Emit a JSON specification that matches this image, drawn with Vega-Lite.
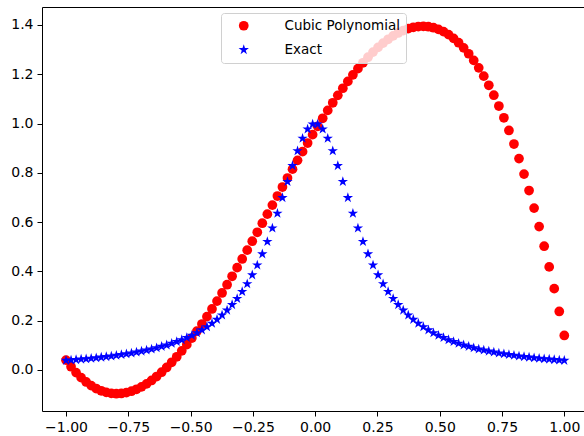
{
  "$schema": "https://vega.github.io/schema/vega-lite/v6.json",
  "width": 542,
  "height": 404,
  "autosize": {"type": "none"},
  "padding": {"left": 42, "top": 7, "right": 0, "bottom": 25},
  "background": "white",
  "config": {
    "view": {"stroke": "black", "strokeWidth": 1},
    "font": "DejaVu Sans",
    "axis": {
      "grid": false,
      "domain": false,
      "tickColor": "black",
      "tickSize": 5,
      "labelFont": "DejaVu Sans",
      "labelFontSize": 14,
      "labelColor": "black",
      "labelPadding": 4,
      "title": null
    }
  },
  "data": {
    "values": [
      {"x": -1.0, "Cubic Polynomial": 0.040, "Exact": 0.0385},
      {"x": -0.9798, "Cubic Polynomial": 0.0132, "Exact": 0.0400},
      {"x": -0.9596, "Cubic Polynomial": -0.0105, "Exact": 0.0416},
      {"x": -0.9394, "Cubic Polynomial": -0.0311, "Exact": 0.0434},
      {"x": -0.9192, "Cubic Polynomial": -0.0487, "Exact": 0.0452},
      {"x": -0.8990, "Cubic Polynomial": -0.0634, "Exact": 0.0472},
      {"x": -0.8788, "Cubic Polynomial": -0.0753, "Exact": 0.0492},
      {"x": -0.8586, "Cubic Polynomial": -0.0844, "Exact": 0.0515},
      {"x": -0.8384, "Cubic Polynomial": -0.0909, "Exact": 0.0538},
      {"x": -0.8182, "Cubic Polynomial": -0.0948, "Exact": 0.0564},
      {"x": -0.7980, "Cubic Polynomial": -0.0962, "Exact": 0.0591},
      {"x": -0.7778, "Cubic Polynomial": -0.0951, "Exact": 0.0620},
      {"x": -0.7576, "Cubic Polynomial": -0.0918, "Exact": 0.0652},
      {"x": -0.7374, "Cubic Polynomial": -0.0861, "Exact": 0.0685},
      {"x": -0.7172, "Cubic Polynomial": -0.0783, "Exact": 0.0722},
      {"x": -0.6970, "Cubic Polynomial": -0.0683, "Exact": 0.0761},
      {"x": -0.6768, "Cubic Polynomial": -0.0564, "Exact": 0.0803},
      {"x": -0.6566, "Cubic Polynomial": -0.0424, "Exact": 0.0849},
      {"x": -0.6364, "Cubic Polynomial": -0.0266, "Exact": 0.0899},
      {"x": -0.6162, "Cubic Polynomial": -0.0091, "Exact": 0.0953},
      {"x": -0.5960, "Cubic Polynomial": 0.0102, "Exact": 0.1012},
      {"x": -0.5758, "Cubic Polynomial": 0.0312, "Exact": 0.1077},
      {"x": -0.5556, "Cubic Polynomial": 0.0536, "Exact": 0.1147},
      {"x": -0.5354, "Cubic Polynomial": 0.0776, "Exact": 0.1225},
      {"x": -0.5152, "Cubic Polynomial": 0.1029, "Exact": 0.1310},
      {"x": -0.4949, "Cubic Polynomial": 0.1295, "Exact": 0.1404},
      {"x": -0.4747, "Cubic Polynomial": 0.1574, "Exact": 0.1507},
      {"x": -0.4545, "Cubic Polynomial": 0.1864, "Exact": 0.1622},
      {"x": -0.4343, "Cubic Polynomial": 0.2165, "Exact": 0.1749},
      {"x": -0.4141, "Cubic Polynomial": 0.2476, "Exact": 0.1891},
      {"x": -0.3939, "Cubic Polynomial": 0.2796, "Exact": 0.2049},
      {"x": -0.3737, "Cubic Polynomial": 0.3125, "Exact": 0.2226},
      {"x": -0.3535, "Cubic Polynomial": 0.3460, "Exact": 0.2424},
      {"x": -0.3333, "Cubic Polynomial": 0.3803, "Exact": 0.2647},
      {"x": -0.3131, "Cubic Polynomial": 0.4152, "Exact": 0.2898},
      {"x": -0.2929, "Cubic Polynomial": 0.4505, "Exact": 0.3180},
      {"x": -0.2727, "Cubic Polynomial": 0.4863, "Exact": 0.3497},
      {"x": -0.2525, "Cubic Polynomial": 0.5225, "Exact": 0.3855},
      {"x": -0.2323, "Cubic Polynomial": 0.5589, "Exact": 0.4257},
      {"x": -0.2121, "Cubic Polynomial": 0.5956, "Exact": 0.4706},
      {"x": -0.1919, "Cubic Polynomial": 0.6323, "Exact": 0.5206},
      {"x": -0.1717, "Cubic Polynomial": 0.6691, "Exact": 0.5757},
      {"x": -0.1515, "Cubic Polynomial": 0.7058, "Exact": 0.6354},
      {"x": -0.1313, "Cubic Polynomial": 0.7425, "Exact": 0.6988},
      {"x": -0.1111, "Cubic Polynomial": 0.7789, "Exact": 0.7642},
      {"x": -0.0909, "Cubic Polynomial": 0.8150, "Exact": 0.8288},
      {"x": -0.0707, "Cubic Polynomial": 0.8508, "Exact": 0.8889},
      {"x": -0.0505, "Cubic Polynomial": 0.8861, "Exact": 0.9401},
      {"x": -0.0303, "Cubic Polynomial": 0.9209, "Exact": 0.9776},
      {"x": -0.0101, "Cubic Polynomial": 0.9551, "Exact": 0.9975},
      {"x": 0.0101, "Cubic Polynomial": 0.9887, "Exact": 0.9975},
      {"x": 0.0303, "Cubic Polynomial": 1.0215, "Exact": 0.9776},
      {"x": 0.0505, "Cubic Polynomial": 1.0534, "Exact": 0.9401},
      {"x": 0.0707, "Cubic Polynomial": 1.0844, "Exact": 0.8889},
      {"x": 0.0909, "Cubic Polynomial": 1.1144, "Exact": 0.8288},
      {"x": 0.1111, "Cubic Polynomial": 1.1433, "Exact": 0.7642},
      {"x": 0.1313, "Cubic Polynomial": 1.1711, "Exact": 0.6988},
      {"x": 0.1515, "Cubic Polynomial": 1.1977, "Exact": 0.6354},
      {"x": 0.1717, "Cubic Polynomial": 1.2229, "Exact": 0.5757},
      {"x": 0.1919, "Cubic Polynomial": 1.2467, "Exact": 0.5206},
      {"x": 0.2121, "Cubic Polynomial": 1.2691, "Exact": 0.4706},
      {"x": 0.2323, "Cubic Polynomial": 1.2899, "Exact": 0.4257},
      {"x": 0.2525, "Cubic Polynomial": 1.3090, "Exact": 0.3855},
      {"x": 0.2727, "Cubic Polynomial": 1.3265, "Exact": 0.3497},
      {"x": 0.2929, "Cubic Polynomial": 1.3421, "Exact": 0.3180},
      {"x": 0.3131, "Cubic Polynomial": 1.3559, "Exact": 0.2898},
      {"x": 0.3333, "Cubic Polynomial": 1.3677, "Exact": 0.2647},
      {"x": 0.3535, "Cubic Polynomial": 1.3775, "Exact": 0.2424},
      {"x": 0.3737, "Cubic Polynomial": 1.3852, "Exact": 0.2226},
      {"x": 0.3939, "Cubic Polynomial": 1.3906, "Exact": 0.2049},
      {"x": 0.4141, "Cubic Polynomial": 1.3938, "Exact": 0.1891},
      {"x": 0.4343, "Cubic Polynomial": 1.3947, "Exact": 0.1749},
      {"x": 0.4545, "Cubic Polynomial": 1.3931, "Exact": 0.1622},
      {"x": 0.4747, "Cubic Polynomial": 1.3890, "Exact": 0.1507},
      {"x": 0.4949, "Cubic Polynomial": 1.3823, "Exact": 0.1404},
      {"x": 0.5152, "Cubic Polynomial": 1.3730, "Exact": 0.1310},
      {"x": 0.5354, "Cubic Polynomial": 1.3609, "Exact": 0.1225},
      {"x": 0.5556, "Cubic Polynomial": 1.3459, "Exact": 0.1147},
      {"x": 0.5758, "Cubic Polynomial": 1.3281, "Exact": 0.1077},
      {"x": 0.5960, "Cubic Polynomial": 1.3073, "Exact": 0.1012},
      {"x": 0.6162, "Cubic Polynomial": 1.2833, "Exact": 0.0953},
      {"x": 0.6364, "Cubic Polynomial": 1.2563, "Exact": 0.0899},
      {"x": 0.6566, "Cubic Polynomial": 1.2260, "Exact": 0.0849},
      {"x": 0.6768, "Cubic Polynomial": 1.1924, "Exact": 0.0803},
      {"x": 0.6970, "Cubic Polynomial": 1.1554, "Exact": 0.0761},
      {"x": 0.7172, "Cubic Polynomial": 1.1150, "Exact": 0.0722},
      {"x": 0.7374, "Cubic Polynomial": 1.0710, "Exact": 0.0685},
      {"x": 0.7576, "Cubic Polynomial": 1.0234, "Exact": 0.0652},
      {"x": 0.7778, "Cubic Polynomial": 0.9720, "Exact": 0.0620},
      {"x": 0.7980, "Cubic Polynomial": 0.9169, "Exact": 0.0591},
      {"x": 0.8182, "Cubic Polynomial": 0.8579, "Exact": 0.0564},
      {"x": 0.8384, "Cubic Polynomial": 0.7950, "Exact": 0.0538},
      {"x": 0.8586, "Cubic Polynomial": 0.7281, "Exact": 0.0515},
      {"x": 0.8788, "Cubic Polynomial": 0.6570, "Exact": 0.0492},
      {"x": 0.8990, "Cubic Polynomial": 0.5818, "Exact": 0.0472},
      {"x": 0.9192, "Cubic Polynomial": 0.5023, "Exact": 0.0452},
      {"x": 0.9394, "Cubic Polynomial": 0.4184, "Exact": 0.0434},
      {"x": 0.9596, "Cubic Polynomial": 0.3301, "Exact": 0.0416},
      {"x": 0.9798, "Cubic Polynomial": 0.2374, "Exact": 0.0400},
      {"x": 1.0, "Cubic Polynomial": 0.1400, "Exact": 0.0385}
    ]
  },
  "transform": [{"fold": ["Cubic Polynomial", "Exact"], "as": ["series", "val"]}],
  "mark": {"type": "point", "filled": true, "opacity": 1},
  "encoding": {
    "x": {
      "field": "x", "type": "quantitative",
      "scale": {"domain": [-1.0964, 1.0791], "nice": false, "zero": false},
      "axis": {"values": [-1, -0.75, -0.5, -0.25, 0, 0.25, 0.5, 0.75, 1], "format": ".2f"}
    },
    "y": {
      "field": "val", "type": "quantitative",
      "scale": {"domain": [-0.1664, 1.473], "nice": false, "zero": false},
      "axis": {"values": [0, 0.2, 0.4, 0.6, 0.8, 1.0, 1.2, 1.4], "format": ".1f"}
    },
    "color": {
      "field": "series", "type": "nominal",
      "scale": {"domain": ["Cubic Polynomial", "Exact"], "range": ["#ff0000", "#0000ff"]},
      "legend": {
        "orient": "none", "legendX": 179, "legendY": 6, "title": null,
        "padding": 6, "fillColor": "rgba(255,255,255,0.8)", "strokeColor": "#d0d0d0",
        "cornerRadius": 3, "symbolSize": 95, "symbolOffset": 10, "labelOffset": 34, "rowPadding": 9,
        "labelFontSize": 13.5, "labelFont": "DejaVu Sans", "labelColor": "black"
      }
    },
    "shape": {
      "field": "series", "type": "nominal",
      "scale": {"domain": ["Cubic Polynomial", "Exact"], "range": ["circle", "M0,-1L-0.2245,-0.309L-0.9511,-0.309L-0.3633,0.118L-0.5878,0.809L0,0.382L0.5878,0.809L0.3633,0.118L0.9511,-0.309L0.2245,-0.309Z"]}
    },
    "size": {
      "field": "series", "type": "nominal",
      "scale": {"domain": ["Cubic Polynomial", "Exact"], "range": [95, 118]},
      "legend": null
    },
    "order": {"field": "series", "type": "nominal", "sort": "ascending"}
  }
}
